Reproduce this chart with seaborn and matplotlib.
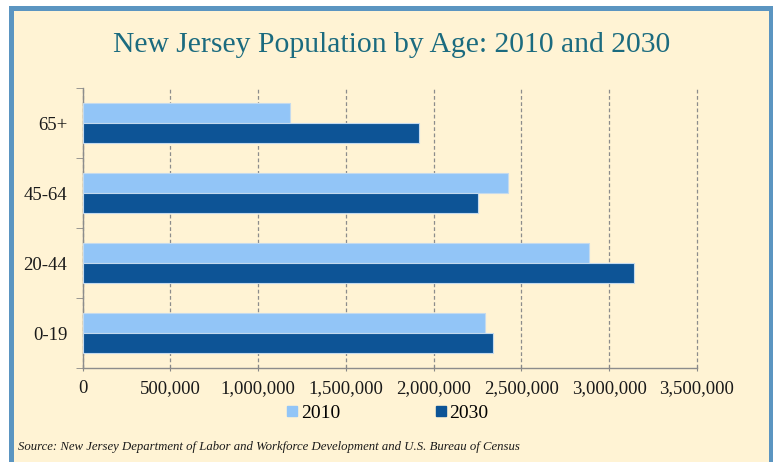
import matplotlib.pyplot as plt
import matplotlib.patches as mpatches
from matplotlib.lines import Line2D
from matplotlib.ticker import FuncFormatter, MultipleLocator, FixedLocator
import pandas as pd
import seaborn as sns

AGE_GROUPS = ['65+', '45-64', '20-44', '0-19']
YEARS = ['2010', '2030']
POP_2010 = [1184000, 2424000, 2887000, 2290000]
POP_2030 = [1916000, 2252000, 3139000, 2337000]
X_TICKS = [0, 500000, 1000000, 1500000, 2000000, 2500000, 3000000, 3500000]

LIGHT = '#92C5F7'
DARK = '#0D5496'
CREAM = '#FFF3D4'
FRAME = '#5B95C1'


def main():
    plt.rcParams['font.family'] = ['Liberation Serif', 'DejaVu Serif']

    df = pd.DataFrame({
        'age': AGE_GROUPS * 2,
        'year': [YEARS[0]] * len(AGE_GROUPS) + [YEARS[1]] * len(AGE_GROUPS),
        'population': POP_2010 + POP_2030,
    })

    W, H = 773, 462
    fig = plt.figure(figsize=(W / 100, H / 100), dpi=100)
    fig.patch.set_facecolor('white')

    # cream panel with blue frame
    frame = mpatches.Rectangle((10.5 / W, -0.05), (770.5 - 10.5) / W,
                               1 - 7.5 / H + 0.05, transform=fig.transFigure,
                               facecolor=CREAM, edgecolor=FRAME,
                               linewidth=3.6, zorder=-10)
    fig.patches.append(frame)

    ax = fig.add_axes([82.5 / W, 1 - 368 / H, (697 - 82.5) / W, (368 - 88) / H])
    ax.set_facecolor('none')
    ax.set_zorder(1)

    sns.barplot(data=df, y='age', x='population', hue='year',
                order=AGE_GROUPS, hue_order=YEARS,
                palette=[LIGHT, DARK], saturation=1, orient='h', width=0.57,
                edgecolor='#C4DAEE', linewidth=0.8, ax=ax, zorder=3)

    ax.set_xlim(0, 3500000)
    ax.set_ylim(3.5, -0.5)
    ax.xaxis.set_major_locator(FixedLocator(X_TICKS))
    ax.xaxis.set_major_formatter(FuncFormatter(lambda v, p: f'{int(v):,}'))
    ax.grid(axis='x', linestyle=(0, (3, 2)), color='#8C8C8C', linewidth=0.9, zorder=1)
    ax.set_axisbelow(True)
    for gl in ax.xaxis.get_gridlines():
        gl.set_clip_on(False)

    ax.yaxis.set_minor_locator(MultipleLocator(1, offset=0.5))
    ax.tick_params(axis='y', which='major', length=0, pad=11,
                   labelsize=13.5, labelcolor='#1a1a1a')
    ax.tick_params(axis='y', which='minor', length=5, color='#888888', direction='out')
    ax.tick_params(axis='x', length=5, color='#888888', direction='inout',
                   labelsize=13.5, labelcolor='#1a1a1a', pad=6)

    for side in ['top', 'right']:
        ax.spines[side].set_visible(False)
    for side in ['left', 'bottom']:
        ax.spines[side].set_color('#8C8C8C')
        ax.spines[side].set_linewidth(1.0)

    ax.set_xlabel('')
    ax.set_ylabel('')
    ax.get_legend().remove()

    fig.text(391.5 / W, 1 - 45 / H, 'New Jersey Population by Age: 2010 and 2030',
             ha='center', va='center', fontsize=21.3, color='#1B6B7F')

    handles = [Line2D([], [], marker='s', linestyle='', markersize=7,
                      markerfacecolor=c, markeredgecolor=c)
               for c in [LIGHT, DARK]]
    fig.legend(handles, YEARS, loc='center', ncol=2,
               bbox_to_anchor=(388 / W, 1 - 413 / H), frameon=False,
               fontsize=14, handlelength=0.5, handletextpad=0.2,
               columnspacing=4.9)

    fig.text(18 / W, 1 - 447 / H,
             'Source: New Jersey Department of Labor and Workforce '
             'Development and U.S. Bureau of Census',
             ha='left', va='center', fontsize=9.2, style='italic',
             color='#1a1a1a')

    fig.savefig('out.png', dpi=100)


if __name__ == '__main__':
    main()
